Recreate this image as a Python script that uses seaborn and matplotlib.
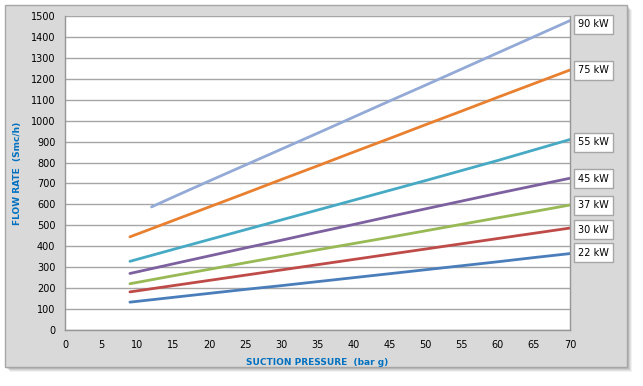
import matplotlib
matplotlib.use("Agg")
import matplotlib.pyplot as plt
import matplotlib.patches as mpatches
import matplotlib.transforms as mtransforms
import seaborn as sns
import pandas as pd

# ---- data ----
pressure = [9, 15, 20, 25, 30, 35, 40, 45, 50, 55, 60, 65, 70]
pressure_90 = [12, 15, 20, 25, 30, 35, 40, 45, 50, 55, 60, 65, 70]
flow_22 = [133, 156, 175, 194, 212, 231, 250, 269, 288, 307, 326, 346, 365]
flow_30 = [182, 212, 237, 262, 287, 312, 337, 362, 387, 412, 437, 462, 487]
flow_37 = [221, 259, 290, 321, 352, 383, 413, 443, 474, 505, 536, 566, 597]
flow_45 = [270, 316, 354, 392, 429, 467, 504, 542, 579, 616, 653, 689, 725]
flow_55 = [328, 385, 432, 479, 526, 573, 620, 667, 714, 762, 810, 860, 910]
flow_75 = [445, 523, 588, 653, 719, 784, 850, 915, 981, 1046, 1112, 1177, 1242]
flow_90 = [588, 635, 712, 788, 864, 940, 1017, 1094, 1170, 1247, 1324, 1401, 1478]

series_names = ["22 kW", "30 kW", "37 kW", "45 kW", "55 kW", "75 kW", "90 kW"]
label_y = [370, 480, 595, 723, 896, 1240, 1460]
x_ticks = list(range(0, 71, 5))
y_ticks = list(range(0, 1501, 100))

colors = ["#4A7EBB", "#BE4B48", "#98B954", "#7D60A0", "#46AAC5", "#E8802F", "#93A9D6"]

rows = []
for name, xs, ys in zip(series_names,
                        [pressure] * 6 + [pressure_90],
                        [flow_22, flow_30, flow_37, flow_45, flow_55, flow_75, flow_90]):
    for x, y in zip(xs, ys):
        rows.append({"pressure": x, "flow": y, "series": name})
df = pd.DataFrame(rows)

sns.set_theme(style="white")
plt.rcParams['font.family'] = ['DejaVu Sans']

W, H = 643, 386
fig = plt.figure(figsize=(W / 100, H / 100), dpi=100)
fig.patch.set_facecolor("white")

# chart box with shadow
def px_rect(x0, y0, x1, y1, **kw):
    return mpatches.Rectangle((x0 / W, 1 - y1 / H), (x1 - x0) / W, (y1 - y0) / H,
                              transform=fig.transFigure, **kw)

for i, a in enumerate([0.10, 0.14, 0.18, 0.22]):
    off = 5 - i
    fig.patches.append(px_rect(5 + off, 5 + off, 627 + off, 367 + off,
                               facecolor="#808080", alpha=a, edgecolor="none", zorder=0))
fig.patches.append(px_rect(5, 5, 627, 367, facecolor="#D9D9D9", edgecolor="#A6A6A6",
                           linewidth=1, zorder=1))

ax = fig.add_axes([65 / W, 1 - 330 / H, 505 / W, 314 / H])
ax.set_facecolor("white")
ax.set_zorder(2)

sns.lineplot(data=df, x="pressure", y="flow", hue="series", palette=colors,
             hue_order=series_names, linewidth=2, legend=False, ax=ax)

ax.set_xlim(0, 70)
ax.set_ylim(0, 1500)
ax.set_xticks(x_ticks)
ax.set_yticks(y_ticks)
ax.tick_params(axis="both", labelsize=7, length=3, width=0.8,
               direction="out", pad=4)
ax.tick_params(axis="x", colors="#808080", labelcolor="#000000")
ax.tick_params(axis="y", colors="#808080", labelcolor="#000000")
ax.yaxis.grid(True, color="#A6A6A6", linewidth=1)
ax.set_axisbelow(True)
for side in ["left", "bottom", "right"]:
    ax.spines[side].set_color("#969696")
    ax.spines[side].set_linewidth(1)
ax.spines["top"].set_visible(False)

ax.set_xlabel("SUCTION PRESSURE  (bar g)", fontsize=6.5, color="#0070C0",
              fontweight="bold", labelpad=6)
ax.set_ylabel("FLOW RATE  (Smc/h)", fontsize=6.5, color="#0070C0",
              fontweight="bold", labelpad=6)

trans = mtransforms.blended_transform_factory(ax.transAxes, ax.transData)
for name, yv in zip(series_names, label_y):
    ax.text(1.0465, yv, name, transform=trans, fontsize=7, color="#000000",
            ha="center", va="center", clip_on=False,
            bbox=dict(boxstyle="square,pad=0.45", facecolor="white",
                      edgecolor="#A6A6A6", linewidth=1))

fig.savefig("out.png", dpi=100, facecolor=fig.get_facecolor())
